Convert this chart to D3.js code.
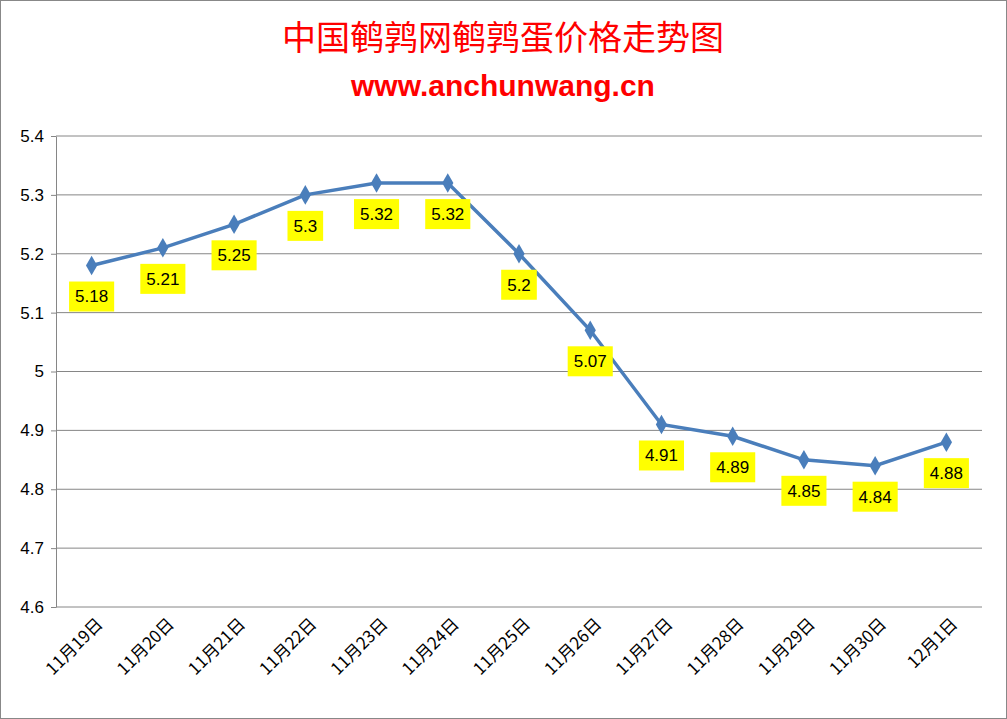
<!DOCTYPE html>
<html><head><meta charset="utf-8">
<script src="https://cdn.jsdelivr.net/npm/d3@7"></script>
<style>body{margin:0;background:#fff}</style>
</head><body>
<svg id="c" width="1007" height="719"></svg>
<script>
const categories = ["11月19日","11月20日","11月21日","11月22日","11月23日","11月24日","11月25日","11月26日","11月27日","11月28日","11月29日","11月30日","12月1日"];
const prices = [5.18,5.21,5.25,5.3,5.32,5.32,5.2,5.07,4.91,4.89,4.85,4.84,4.88];
const yTicks = [4.6,4.7,4.8,4.9,5,5.1,5.2,5.3,5.4];

const svg = d3.select("#c");
const margin = { top: 136, right: 25, bottom: 112, left: 56 };
const width = 1007 - margin.left - margin.right;
const height = 719 - margin.top - margin.bottom;

svg.append("rect").attr("x", 0.5).attr("y", 0.5).attr("width", 1006).attr("height", 718)
  .attr("fill", "#fff").attr("stroke", "#888");

svg.append("text").attr("x", 503).attr("y", 50).attr("text-anchor", "middle")
  .attr("fill", "#ff0000").style("font", "34px 'Noto Sans CJK SC'").text("中国鹌鹑网鹌鹑蛋价格走势图");
svg.append("text").attr("x", 503).attr("y", 96).attr("text-anchor", "middle")
  .attr("fill", "#ff0000").style("font", "bold 30px 'Liberation Sans'").text("www.anchunwang.cn");

const g = svg.append("g").attr("transform", `translate(${margin.left},${margin.top})`);
const x = d3.scaleBand().domain(categories).range([0, width]);
const y = d3.scaleLinear().domain([4.6, 5.4]).range([height, 0]);

g.selectAll(".grid").data(yTicks).enter().append("line")
  .attr("x1", 0).attr("x2", width).attr("y1", d => y(d)).attr("y2", d => y(d))
  .attr("stroke", "#868686");

const ya = g.append("g").call(d3.axisLeft(y).tickValues(yTicks).tickFormat(d3.format("")).tickSize(5).tickSizeOuter(0));
ya.select(".domain").attr("stroke", "#868686");
ya.selectAll("line").attr("stroke", "#868686");
ya.selectAll("text").style("font", "17px 'Liberation Sans'").attr("fill", "#000").attr("x", -12);

const xa = g.append("g").attr("transform", `translate(0,${height})`)
  .call(d3.axisBottom(x).tickSize(0));
xa.select(".domain").remove();
xa.selectAll("text").style("font", "17px 'Noto Sans CJK SC'").attr("fill", "#000")
  .attr("text-anchor", "end").attr("transform", "translate(8,14) rotate(-45)").attr("dy", "0.35em").attr("y", 0);

const cx = d => x(d) + x.bandwidth() / 2;
const pts = categories.map((c, i) => ({ c, v: prices[i] }));

g.append("path").datum(pts).attr("fill", "none").attr("stroke", "#4a7ebb").attr("stroke-width", 3.5)
  .attr("d", d3.line().x(d => cx(d.c)).y(d => y(d.v)));

g.selectAll(".pt").data(pts).enter().append("path")
  .attr("d", d3.symbol(d3.symbolDiamond, 110))
  .attr("transform", d => `translate(${cx(d.c)},${y(d.v)})`).attr("fill", "#4a7ebb");

const lbl = g.selectAll(".lbl").data(pts).enter().append("g")
  .attr("transform", d => `translate(${cx(d.c)},${y(d.v) + 31})`);
lbl.each(function(d) {
  const s = d3.select(this);
  const t = s.append("text").attr("text-anchor", "middle").attr("dy", "0.35em")
    .style("font", "17px 'Liberation Sans'").text(String(d.v));
  const w = t.node().getComputedTextLength() + 12;
  s.insert("rect", "text").attr("x", -w / 2).attr("y", -15).attr("width", w).attr("height", 30).attr("fill", "#ffff00");
});
</script>
</body></html>
